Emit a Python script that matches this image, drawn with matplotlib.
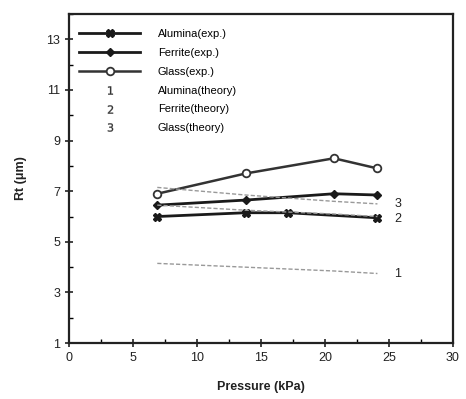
import matplotlib
matplotlib.use("Agg")
import matplotlib.pyplot as plt
from matplotlib.ticker import MultipleLocator
from matplotlib.lines import Line2D

plt.rcParams['font.family'] = ['Liberation Sans', 'DejaVu Sans']

pressure = [6.9, 13.8, 20.7, 24.1]
alumina_x = [6.9, 13.8, 17.1, 24.1]
alumina_exp = [6.0, 6.15, 6.15, 5.95]
ferrite_exp = [6.45, 6.65, 6.9, 6.85]
glass_exp = [6.9, 7.7, 8.3, 7.9]
alumina_th = [4.15, 4.0, 3.85, 3.75]
ferrite_th = [6.45, 6.25, 6.1, 6.0]
glass_th = [7.15, 6.85, 6.6, 6.5]

fig = plt.figure(figsize=(4.66, 3.99), dpi=100)
ax = fig.add_axes([0.148, 0.140, 0.824, 0.825])

dk = '#1a1a1a'
l1, = ax.plot(alumina_x, alumina_exp, color=dk, lw=2, marker='X', ms=6, mfc=dk, mec=dk)
l2, = ax.plot(pressure, ferrite_exp, color=dk, lw=2, marker='D', ms=4, mfc=dk, mec=dk)
l3, = ax.plot(pressure, glass_exp, color='#333333', lw=1.8, marker='o', ms=5.5, mfc='white', mec='#333333', mew=1.3)
th_style = dict(color='#999999', lw=1.0, ls=(0, (3, 1.5)))
ax.plot(pressure, alumina_th, **th_style)
ax.plot(pressure, ferrite_th, **th_style)
ax.plot(pressure, glass_th, **th_style)

# curve labels
for yv, s in [(alumina_th[-1], '1'), (ferrite_th[-1] - 0.1, '2'), (glass_th[-1], '3')]:
    ax.text(pressure[-1] + 1.3, yv, s, fontsize=9, va='center', ha='left', color='#222222')

ax.set_xlim(0, 30)
ax.set_ylim(1, 14)
ax.set_xticks([0, 5, 10, 15, 20, 25, 30])
ax.set_yticks([1, 3, 5, 7, 9, 11, 13])
ax.xaxis.set_minor_locator(MultipleLocator(2.5))
ax.yaxis.set_minor_locator(MultipleLocator(1))
ax.tick_params(axis='both', which='major', direction='inout', length=6, width=1.2, labelsize=9, colors='#222222')
ax.tick_params(axis='both', which='minor', direction='in', length=3, width=1.0)
for sp in ax.spines.values():
    sp.set_linewidth(1.6)
    sp.set_color('#222222')

ax.set_xlabel('Pressure (kPa)', fontsize=9, fontweight='bold', labelpad=12, color='#222222')
ax.set_ylabel('Rt (\u03bcm)', fontsize=9, fontweight='bold', labelpad=14, color='#222222')

# legend
handles = [l1, l2, l3,
           Line2D([], [], ls='none', marker='$1$', color='#333333', ms=6, mew=0.2),
           Line2D([], [], ls='none', marker='$2$', color='#333333', ms=6, mew=0.2),
           Line2D([], [], ls='none', marker='$3$', color='#333333', ms=6, mew=0.2)]
labels = ['Alumina(exp.)', 'Ferrite(exp.)', 'Glass(exp.)',
          'Alumina(theory)', 'Ferrite(theory)', 'Glass(theory)']
ax.legend(handles, labels, loc='upper left', frameon=False, fontsize=8,
          handlelength=5.5, handletextpad=1.6, labelspacing=0.8,
          bbox_to_anchor=(0.0, 0.985), numpoints=1)

fig.savefig('out.png', dpi=100)
